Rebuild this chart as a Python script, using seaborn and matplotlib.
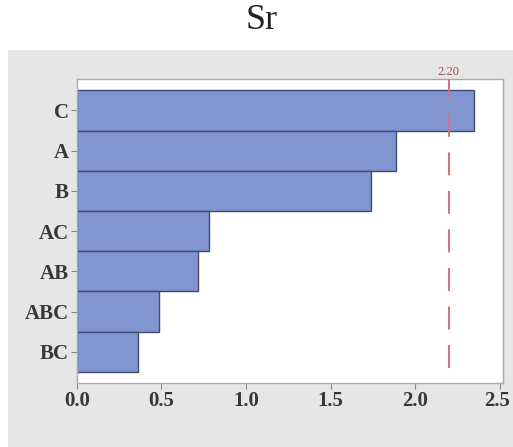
import numpy as np
import pandas as pd
import matplotlib
matplotlib.use("Agg")
import matplotlib.pyplot as plt
import matplotlib.transforms as mtransforms
import seaborn as sns
from matplotlib.patches import Rectangle

# standardized effects
terms = ["C", "A", "B", "AC", "AB", "ABC", "BC"]
effects = [2.35, 1.89, 1.74, 0.78, 0.715, 0.485, 0.36]
critical = 2.20
x_ticks = [0.0, 0.5, 1.0, 1.5, 2.0, 2.5]

df = pd.DataFrame({"term": terms, "effect": effects})

sns.set_theme(style="white")
plt.rcParams['font.family'] = ['Liberation Serif', 'DejaVu Serif']

fig = plt.figure(figsize=(5.13, 4.47), dpi=100)
fig.patch.set_facecolor("white")

# grey panel behind the plot, like the Minitab graph window
fig.patches.append(Rectangle((8 / 513, 0), 1 - 8 / 513, (447 - 50) / 447,
                             transform=fig.transFigure, facecolor="#e6e6e6",
                             edgecolor="none", zorder=-5))

ax = fig.add_axes([0.150, 0.143, 0.8305, 0.680])
ax.set_facecolor("white")

sns.barplot(data=df, x="effect", y="term", order=terms, orient="h",
            color="#8195d0", saturation=1, width=1.0,
            edgecolor="#3d4b78", linewidth=1.0, ax=ax)

ax.set_xlim(0, 2.52)
ax.set_ylim(6.78, -0.78)
ax.set_xticks(x_ticks)
ax.set_xticklabels([f"{t:.1f}" for t in x_ticks])

ax.axvline(critical, ymin=0.05, ymax=1, color="#cf7580", linestyle=(0, (11, 7.5)),
           linewidth=1.5, zorder=3)
ax.text(critical, 1.005, f"{critical:.2f}", transform=ax.get_xaxis_transform(),
        ha="center", va="bottom", fontsize=9, color="#a0504f")

ax.set_xlabel("")
ax.set_ylabel("")
ax.tick_params(axis="both", which="both", length=4, width=0.8, color="#888888",
               labelsize=15, labelcolor="#383838", direction="out", pad=2)
ax.tick_params(axis="x", bottom=True)
ax.tick_params(axis="y", left=True)
for lab in ax.get_xticklabels() + ax.get_yticklabels():
    lab.set_fontweight("bold")
# nudge the last x label so it stays inside the picture
last = ax.get_xticklabels()[-1]
last.set_transform(last.get_transform() +
                   mtransforms.ScaledTranslation(-3 / 100, 0, fig.dpi_scale_trans))
for sp in ax.spines.values():
    sp.set_color("#aaaaaa")
    sp.set_linewidth(1.0)

fig.text(0.51, 0.955, "Sr", ha="center", va="center", fontsize=26, color="#222222")

fig.savefig("out.png", dpi=100)
